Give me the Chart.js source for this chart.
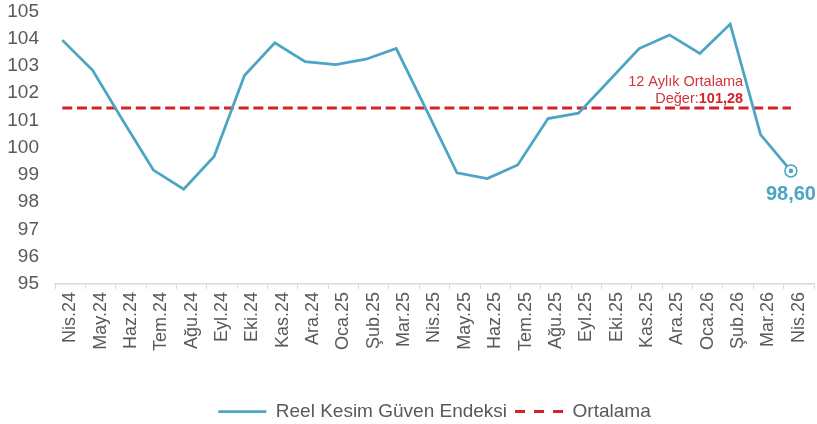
<!DOCTYPE html>
<html lang="tr">
<head>
<meta charset="utf-8">
<title>Reel Kesim Güven Endeksi</title>
<script src="https://cdn.jsdelivr.net/npm/chart.js@4/dist/chart.umd.min.js"></script>
<style>
    html, body { margin: 0; padding: 0; background: #ffffff; }
    #kutu { position: relative; width: 817px; height: 424px; }
</style>
</head>
<body>
<div id="kutu"><canvas id="rkgeChart"></canvas></div>
<script>
// aylar
const aylar = ['Nis.24', 'May.24', 'Haz.24', 'Tem.24', 'Ağu.24', 'Eyl.24', 'Eki.24', 'Kas.24', 'Ara.24',
    'Oca.25', 'Şub.25', 'Mar.25', 'Nis.25', 'May.25', 'Haz.25', 'Tem.25', 'Ağu.25', 'Eyl.25', 'Eki.25',
    'Kas.25', 'Ara.25', 'Oca.26', 'Şub.26', 'Mar.26', 'Nis.26'];

// Reel Kesim Güven Endeksi
const guvenEndeksi = [103.95, 102.84, 100.99, 99.18, 98.48, 99.68, 102.65, 103.85, 103.16,
    103.05, 103.25, 103.64, 101.37, 99.08, 98.87, 99.37, 101.07, 101.27, 102.45,
    103.64, 104.14, 103.46, 104.54, 100.48, 99.15];

// ortalama çizgisi
const ortalama = [101.46, 101.46, 101.46, 101.46, 101.46, 101.46, 101.46, 101.46, 101.46,
    101.46, 101.46, 101.46, 101.46, 101.46, 101.46, 101.46, 101.46, 101.46, 101.46,
    101.46, 101.46, 101.46, 101.46, 101.46, 101.46];

// eksen değerleri
const yEksen = [95, 96, 97, 98, 99, 100, 101, 102, 103, 104, 105];

// yazılar
const sonDeger = '98,60';
const ortalamaBaslik = '12 Aylık Ortalama';
const ortalamaEtiket = 'Değer:';
const ortalamaDeger = '101,28';

const mavi = '#4ba5c3';
const kirmizi = '#d2232a';
const gri = '#595959';
const yazi = "'Liberation Sans', Arial, sans-serif";

Chart.defaults.font.family = yazi;
Chart.defaults.color = gri;

// son nokta ve ortalama açıklaması
const etiketPlugin = {
    id: 'etiketler',
    afterDatasetsDraw(chart) {
        const ctx = chart.ctx;
        const meta = chart.getDatasetMeta(0);
        const son = meta.data[meta.data.length - 1];
        ctx.save();
        ctx.fillStyle = mavi;
        ctx.beginPath();
        ctx.arc(son.x, son.y, 2.3, 0, Math.PI * 2);
        ctx.fill();
        ctx.font = 'bold 20px ' + yazi;
        ctx.textAlign = 'center';
        ctx.textBaseline = 'middle';
        ctx.fillText(sonDeger, son.x, son.y + 23.5);

        // ortalama yazısı
        const ortMeta = chart.getDatasetMeta(1);
        const oy = ortMeta.data[0].y;
        const ox = chart.scales.x.getPixelForValue(aylar.length - 3) + 5;
        ctx.fillStyle = '#d3343b';
        ctx.textAlign = 'right';
        ctx.textBaseline = 'alphabetic';
        ctx.font = '14.5px ' + yazi;
        ctx.fillText(ortalamaBaslik, ox, oy - 21.5);
        ctx.font = 'bold 14.5px ' + yazi;
        const w = ctx.measureText(ortalamaDeger).width;
        ctx.fillStyle = kirmizi;
        ctx.fillText(ortalamaDeger, ox, oy - 4.5);
        ctx.font = '14.5px ' + yazi;
        ctx.fillStyle = '#d3343b';
        ctx.fillText(ortalamaEtiket, ox - w, oy - 4.5);
        ctx.restore();
    }
};

const ctx = document.getElementById('rkgeChart');
const rkgeChart = new Chart(ctx, {
    type: 'line',
    data: {
        labels: aylar,
        datasets: [{
            label: 'Reel Kesim Güven Endeksi',
            data: guvenEndeksi.map((v, i) => ({ x: i, y: v })),
            xAxisID: 'xd',
            borderColor: mavi,
            backgroundColor: '#ffffff',
            borderWidth: 2.75,
            tension: 0,
            pointRadius: c => c.dataIndex === aylar.length - 1 ? 6 : 0,
            pointBackgroundColor: '#ffffff',
            pointBorderColor: mavi,
            pointBorderWidth: 1.5,
            fill: false
        }, {
            label: 'Ortalama',
            data: ortalama.map((v, i) => ({ x: i, y: v })),
            xAxisID: 'xd',
            borderColor: kirmizi,
            backgroundColor: kirmizi,
            borderWidth: 3,
            borderDash: [10, 4.7],
            pointRadius: 0,
            fill: false
        }]
    },
    options: {
        responsive: true,
        maintainAspectRatio: false,
        animation: false,
        layout: {
            autoPadding: false,
            padding: { left: 7, right: 3, top: 0, bottom: -7 }
        },
        plugins: {
            legend: {
                position: 'bottom',
                fullSize: false,
                labels: {
                    usePointStyle: true,
                    pointStyle: 'line',
                    pointStyleWidth: 48,
                    padding: 8,
                    color: gri,
                    font: { size: 19 },
                    generateLabels(chart) {
                        const items = Chart.defaults.plugins.legend.labels.generateLabels(chart);
                        items.forEach((it, i) => {
                            const ds = chart.data.datasets[i];
                            it.lineWidth = ds.borderWidth;
                            it.strokeStyle = ds.borderColor;
                            it.lineDash = ds.borderDash ? [10, 9] : [];
                            it.pointStyle = 'line';
                        });
                        return items;
                    }
                }
            },
            tooltip: { enabled: false }
        },
        scales: {
            x: {
                type: 'category',
                offset: true,
                grid: {
                    offset: true,
                    drawOnChartArea: false,
                    drawTicks: true,
                    tickLength: 5,
                    color: '#d9d9d9'
                },
                border: { color: '#d9d9d9', width: 1.5 },
                ticks: {
                    minRotation: 90,
                    maxRotation: 90,
                    autoSkip: false,
                    padding: 3,
                    color: gri,
                    font: { size: 18 }
                },
                afterFit(scale) {
                    scale.height += 40;
                    scale.paddingLeft = 0;
                    scale.paddingRight = 0;
                }
            },
            xd: {
                type: 'linear',
                display: false,
                min: -0.24,
                max: aylar.length - 0.24
            },
            y: {
                min: yEksen[0],
                max: yEksen[yEksen.length - 1],
                afterBuildTicks(scale) { scale.ticks = yEksen.map(v => ({ value: v })); },
                afterFit(scale) {
                    scale.width = 48;
                    scale.paddingTop = 11.5;
                    scale.paddingBottom = 0;
                },
                grid: { display: false, drawTicks: false },
                border: { display: false },
                ticks: {
                    autoSkip: false,
                    padding: 16,
                    color: gri,
                    font: { size: 19 }
                }
            }
        }
    },
    plugins: [etiketPlugin]
});
</script>
</body>
</html>
